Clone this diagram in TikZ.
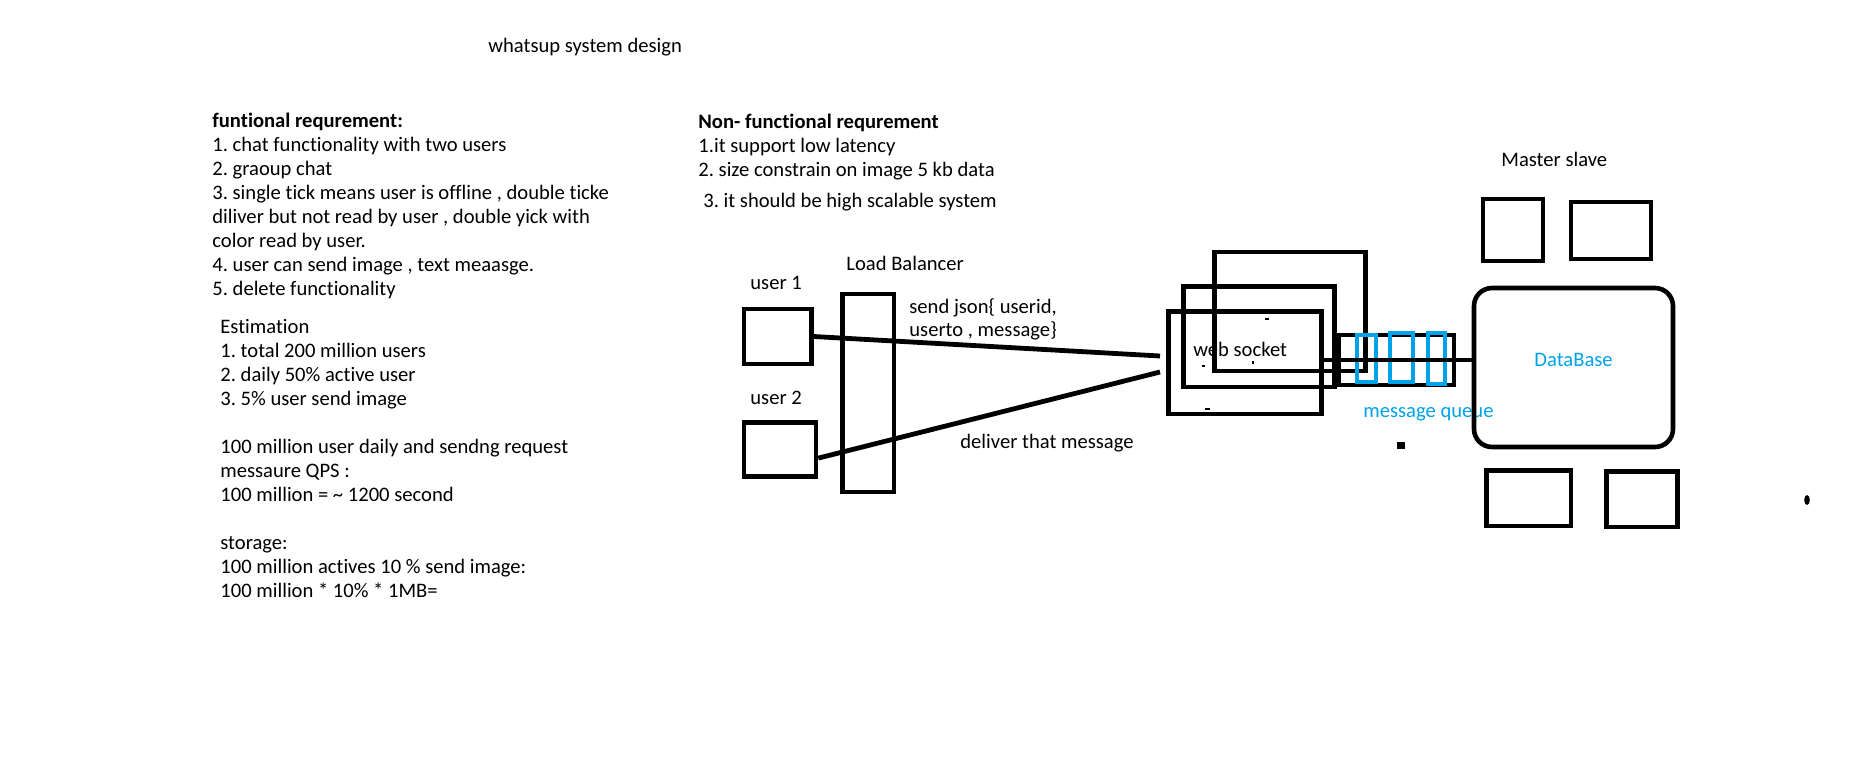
\documentclass[tikz,border=0pt]{standalone}
\usepackage{fontspec}
\setmainfont{Carlito}[Ligatures={NoCommon}]
\definecolor{mqblue}{HTML}{00A2E8}
\frenchspacing

\begin{document}
\begin{tikzpicture}[x=0.5pt,y=-0.5pt,
	txt/.style={anchor=base west,inner sep=0pt,font=\fontsize{10.3}{12}\selectfont},
	box/.style 2 args={draw,line width=2.3pt,inner sep=0pt,minimum width=#1pt,minimum height=#2pt},
	qbox/.style 2 args={draw=mqblue,line width=2pt,inner sep=0pt,minimum width=#1pt,minimum height=#2pt},
	link/.style={line width=2.4pt}]
	\useasboundingbox (0,0) rectangle (1862,762);
	
	\node[txt] (title) at (488,52) {whatsup system design};
	
	% functional requirements
	\node[txt,font=\fontsize{10.3}{12}\selectfont\bfseries] (fr0) at (212,127.5) {funtional requrement:};
	\node[txt] (fr1) at (212,151.5) {1. chat functionality with two users};
	\node[txt] (fr2) at (212,175.5) {2. graoup chat};
	\node[txt] (fr3) at (212,199.5) {3. single tick means user is offline , double ticke};
	\node[txt] (fr4) at (212,223.5) {diliver but not read by user , double yick with};
	\node[txt] (fr5) at (212,247.5) {color read by user.};
	\node[txt] (fr6) at (212,271.5) {4. user can send image , text meaasge.};
	\node[txt] (fr7) at (212,295.5) {5. delete functionality};
	
	% estimation
	\node[txt] (est0) at (220,333) {Estimation};
	\node[txt] (est1) at (220,357) {1. total 200 million users};
	\node[txt] (est2) at (220,381) {2. daily 50\% active user};
	\node[txt] (est3) at (220,405) {3. 5\% user send image};
	\node[txt] (qps1) at (220,453) {100 million user daily and sendng request};
	\node[txt] (qps2) at (220,477) {messaure QPS :};
	\node[txt] (qps3) at (220,501) {100 million = \textasciitilde{} 1200 second};
	\node[txt] (sto1) at (220,549) {storage:};
	\node[txt] (sto2) at (220,573) {100 million actives 10 \% send image:};
	\node[txt] (sto3) at (220,597) {100 million * 10\% * 1MB=};
	
	% non functional requirements
	\node[txt,font=\fontsize{10.3}{12}\selectfont\bfseries] (nfr0) at (698,128) {Non- functional requrement};
	\node[txt] (nfr1) at (698,152.5) {1.it support low latency};
	\node[txt] (nfr2) at (698,176.5) {2. size constrain on image 5 kb data};
	\node[txt] (nfr3) at (703,207) {3. it should be high scalable system};
	
	% users and load balancer
	\node[box={33.75}{27.5}] (user1) at (777.75,336.5) {};
	\node[box={36}{27}] (user2) at (780,449.5) {};
	\node[box={25.75}{99}] (lb) at (868.25,393) {};
	\node[txt] (user1lbl) at (750,289) {user 1};
	\node[txt] (user2lbl) at (750,404) {user 2};
	\node[txt] (lblbl) at (846,270) {Load Balancer};
	\node[txt] (send1) at (909,313) {send json\{ userid,};
	\node[txt] (send2) at (909,336) {userto , message\}};
	\node[txt] (deliver) at (960,448) {deliver that message};
	
	% web socket servers
	\node[box={76.5}{51.25}] (wsC) at (1245,362.75) {};
	\node[box={75.5}{50.25}] (wsB) at (1259,336.75) {};
	\node[txt] (wslbl) at (1193,356) {web socket};
	\node[box={75.5}{59.5}] (wsA) at (1290,311.5) {};
	\fill (1265,318) rectangle (1269,320);
	\fill (1205,408) rectangle (1210,410);
	\fill (1252,361) rectangle (1254,364);
	\fill (1202,365) rectangle (1205,367);
	
	\coordinate (in1) at (1160,356);
	\coordinate (in2) at (1160,372);
	\draw[link] (user1.east) -- (in1);
	\draw[link] ([yshift=-4.3pt]user2.east) -- (in2);
	
	% message queue
	\node[box={57.5}{25},line width=2pt] (queue) at (1396.5,360) {};
	\node[qbox={9.5}{23.5}] (q1) at (1366,358.5) {};
	\node[qbox={11.25}{24.5}] (q2) at (1401.25,357.5) {};
	\node[qbox={8.25}{25.25}] (q3) at (1436.25,358.25) {};
	\node[txt,text=mqblue] (mqlbl) at (1363,417) {message queue};
	\fill (1397,442) rectangle (1405,449);
	
	% database and replicas
	\node[box={99.5}{79.5},rounded corners=9pt] (db) at (1573.5,367.5) {};
	\node[txt,text=mqblue] (dblbl) at (1534,366) {DataBase};
	\draw[line width=2pt,line cap=round] (wsC.east |- queue.center) -- (db.west |- queue.center);
	\node[txt] (mslbl) at (1501,166) {Master slave};
	\node[box={30}{31}] (s1) at (1513,230) {};
	\node[box={40}{28.5}] (s2) at (1611,230.5) {};
	\node[box={42.25}{27.75}] (s3) at (1528.75,498.25) {};
	\node[box={35.5}{27.75}] (s4) at (1642,499.25) {};
	
	\fill (1807,500) ellipse [x radius=1.4pt,y radius=2.5pt];
\end{tikzpicture}
\end{document}
